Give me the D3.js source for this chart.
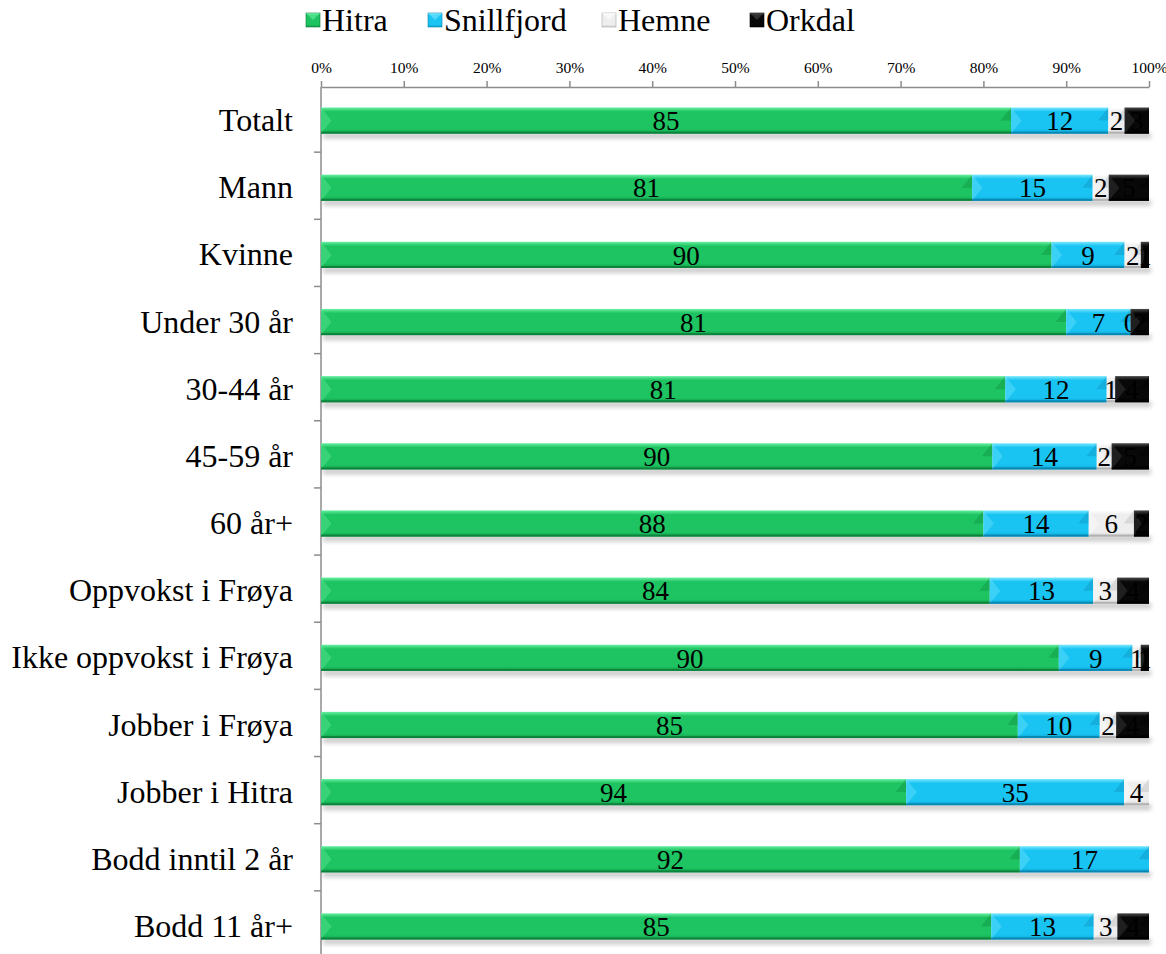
<!DOCTYPE html>
<html>
<head>
<meta charset="utf-8">
<script src="https://cdn.jsdelivr.net/npm/d3@7"></script>
<style>
  body { margin: 0; background: #fff; }
  svg { display: block; font-family: "Liberation Serif", "Times New Roman", serif; }
</style>
</head>
<body>
<div id="chart"></div>
<script>
// --- Data ---
const categories = ["Totalt", "Mann", "Kvinne", "Under 30 år", "30-44 år", "45-59 år", "60 år+",
  "Oppvokst i Frøya", "Ikke oppvokst i Frøya", "Jobber i Frøya", "Jobber i Hitra",
  "Bodd inntil 2 år", "Bodd 11 år+"];
const seriesNames = ["Hitra", "Snillfjord", "Hemne", "Orkdal"];
const hitra      = [85, 81, 90, 81, 81, 90, 88, 84, 90, 85, 94, 92, 85];
const snillfjord = [12, 15, 9, 7, 12, 14, 14, 13, 9, 10, 35, 17, 13];
const hemne      = [2, 2, 2, 0, 1, 2, 6, 3, 1, 2, 4, null, 3];
const orkdal     = [3, 5, 1, 2, 4, 5, 2, 4, 1, 4, null, null, 4];
const tickLabels = ["0%", "10%", "20%", "30%", "40%", "50%", "60%", "70%", "80%", "90%", "100%"];

const seriesValues = [hitra, snillfjord, hemne, orkdal];
const colors = {
  Hitra:      { top: "#6af0a4", mid: "#1ec461", bot: "#11a04b", edge: "#0b7a37" },
  Snillfjord: { top: "#7ae8ff", mid: "#1ac4f2", bot: "#0aa5d6", edge: "#087fa8" },
  Hemne:      { top: "#ffffff", mid: "#eeeeee", bot: "#d2d2d2", edge: "#a8a8a8" },
  Orkdal:     { top: "#4a4a4a", mid: "#080808", bot: "#000000", edge: "#000000" }
};

const W = 1166, H = 954;
const x0 = 321, x1 = 1149, yTop = 87, yBot = 960;

const svg = d3.select("#chart").append("svg")
  .attr("width", W).attr("height", H);

const defs = svg.append("defs");
seriesNames.forEach(name => {
  const c = colors[name];
  const g = defs.append("linearGradient")
    .attr("id", "grad-" + name).attr("x1", 0).attr("y1", 0).attr("x2", 0).attr("y2", 1);
  g.append("stop").attr("offset", "0%").attr("stop-color", c.top);
  g.append("stop").attr("offset", "16%").attr("stop-color", c.mid);
  g.append("stop").attr("offset", "82%").attr("stop-color", c.mid);
  g.append("stop").attr("offset", "100%").attr("stop-color", c.bot);
});
const blur = defs.append("filter").attr("id", "shadow")
  .attr("x", "-5%").attr("y", "-50%").attr("width", "110%").attr("height", "200%");
blur.append("feGaussianBlur").attr("stdDeviation", 2);

// --- Stack (100%) ---
const rows = categories.map((cat, i) => {
  const vals = seriesValues.map(s => s[i]);
  const total = d3.sum(vals, v => v || 0);
  let acc = 0;
  const segs = seriesNames.map((name, k) => {
    const v = vals[k];
    const start = acc / total;
    acc += (v || 0);
    return { name, value: v, start, end: acc / total };
  });
  return { cat, segs };
});

const x = d3.scaleLinear().domain([0, 1]).range([x0, x1]);
const y = d3.scaleBand().domain(categories).range([yTop, yBot]).paddingInner(0.61).paddingOuter(0.305);
const bh = y.bandwidth();

// --- Axes ---
const xAxis = svg.append("g")
  .attr("transform", `translate(0,${yTop})`)
  .call(d3.axisTop(x).tickValues(d3.range(0, 1.01, 0.1)).tickFormat((d, i) => tickLabels[i]).tickSize(6).tickSizeOuter(0));
xAxis.select(".domain").attr("stroke", "#8c8c8c").attr("stroke-width", 1.5);
xAxis.selectAll(".tick line").attr("stroke", "#8c8c8c").attr("stroke-width", 1.5);
xAxis.selectAll(".tick text").attr("font-family", "Liberation Serif").attr("font-size", 15.5)
  .attr("fill", "#000").attr("dy", "-0.3em");

const step = y.step();
const yLine = svg.append("g");
yLine.append("line").attr("x1", x0).attr("x2", x0).attr("y1", yTop).attr("y2", H)
  .attr("stroke", "#8c8c8c").attr("stroke-width", 1.5);
yLine.selectAll("line.tk").data(d3.range(1, categories.length)).enter().append("line")
  .attr("class", "tk")
  .attr("x1", x0 - 7).attr("x2", x0)
  .attr("y1", d => yTop + d * step - 2).attr("y2", d => yTop + d * step - 2)
  .attr("stroke", "#8c8c8c").attr("stroke-width", 1.5);

svg.append("g").selectAll("text").data(categories).enter().append("text")
  .attr("x", 293)
  .attr("y", d => y(d) + bh / 2)
  .attr("dy", "0.33em")
  .attr("text-anchor", "end")
  .attr("font-size", 32)
  .text(d => d);

// --- Bars ---
const rowG = svg.append("g").selectAll("g").data(rows).enter().append("g")
  .attr("transform", d => `translate(0,${y(d.cat)})`);

// shadows
rowG.append("rect")
  .attr("x", x0 + 2).attr("y", bh - 1)
  .attr("width", d => x(d3.max(d.segs.filter(s => s.value), s => s.end)) - x0)
  .attr("height", 6)
  .attr("fill", "#9a9a9a").attr("opacity", 0.5)
  .attr("filter", "url(#shadow)");

seriesNames.forEach((name, k) => {
  const c = colors[name];
  const segG = rowG.filter(d => d.segs[k].value !== null && d.segs[k].end > d.segs[k].start)
    .append("g");
  segG.append("rect")
    .attr("x", d => x(d.segs[k].start))
    .attr("y", 0)
    .attr("width", d => x(d.segs[k].end) - x(d.segs[k].start))
    .attr("height", bh)
    .attr("fill", `url(#grad-${name})`);
  // left bevel (lighter wedge)
  segG.append("path")
    .attr("d", d => {
      const a = x(d.segs[k].start), w = x(d.segs[k].end) - a;
      const b = Math.min(bh * 0.4, w / 2);
      return `M${a},0 L${a + b},${bh / 2} L${a},${bh} Z`;
    })
    .attr("fill", c.top).attr("opacity", 0.35);
  // right bevel (darker upper wedge)
  segG.append("path")
    .attr("d", d => {
      const e = x(d.segs[k].end), w = e - x(d.segs[k].start);
      const b = Math.min(bh * 0.4, w / 2);
      return `M${e},0 L${e - b},${bh / 2} L${e},${bh / 2} Z`;
    })
    .attr("fill", c.edge).attr("opacity", 0.3);
  // bottom edge
  segG.append("rect")
    .attr("x", d => x(d.segs[k].start)).attr("y", bh - 2)
    .attr("width", d => x(d.segs[k].end) - x(d.segs[k].start)).attr("height", 2)
    .attr("fill", c.edge).attr("opacity", 0.8);
  // label
  rowG.filter(d => d.segs[k].value !== null).append("text")
    .attr("x", d => (x(d.segs[k].start) + x(d.segs[k].end)) / 2)
    .attr("y", bh / 2)
    .attr("dy", "0.36em")
    .attr("text-anchor", "middle")
    .attr("font-size", 27)
    .attr("fill", "#000")
    .text(d => d.segs[k].value);
});

// --- Legend ---
const legendX = [306, 428, 602, 750];
const legend = svg.append("g").selectAll("g").data(seriesNames).enter().append("g")
  .attr("transform", (d, i) => `translate(${legendX[i]},13)`);
legend.append("rect").attr("width", 14).attr("height", 14).attr("fill", d => `url(#grad-${d})`)
  .attr("stroke", d => colors[d].edge).attr("stroke-width", 0.6);
legend.append("path")
  .attr("d", "M0,0 L7,7 L14,0 Z")
  .attr("fill", d => colors[d].top).attr("opacity", 0.6);
legend.append("text")
  .attr("x", 16).attr("y", 7).attr("dy", "0.35em")
  .attr("font-size", 32).text(d => d);
</script>
</body>
</html>
